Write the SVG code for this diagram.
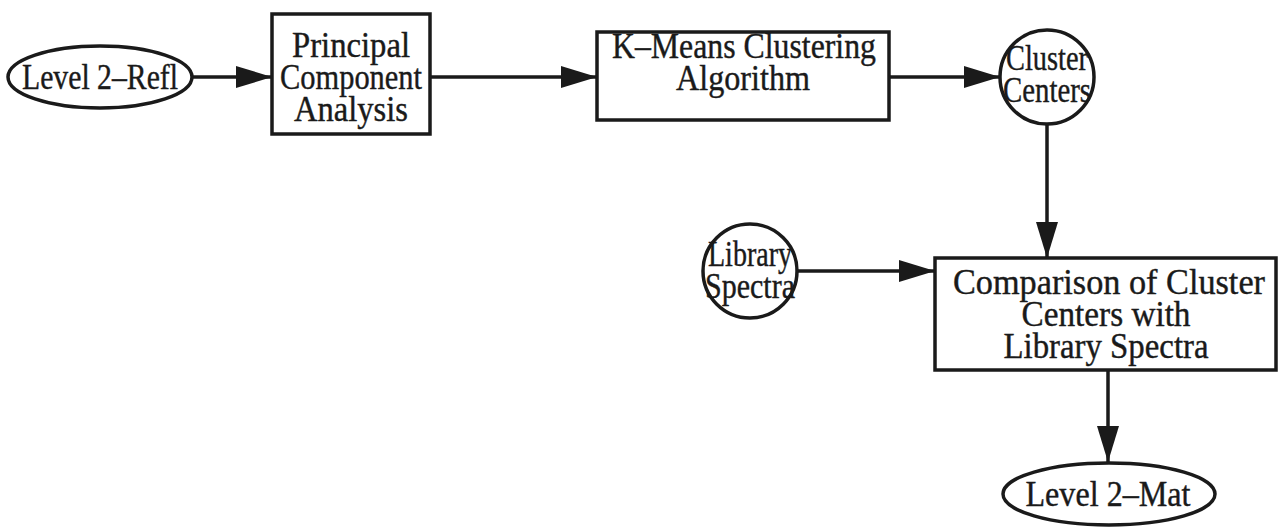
<svg xmlns="http://www.w3.org/2000/svg" width="1279" height="531" viewBox="0 0 1279 531">
<style>
.s{fill:#fff;stroke:#1a1a1a;stroke-width:3.5}
.t{font-family:"Liberation Serif","Times New Roman",serif;font-size:35px;fill:#1a1a1a;stroke:#1a1a1a;stroke-width:0.4;text-anchor:middle}
.c{stroke:#1a1a1a;stroke-width:3.5;fill:none}
</style>
<defs>
<marker id="ah" markerUnits="userSpaceOnUse" markerWidth="38" markerHeight="24" refX="36" refY="11" orient="auto">
<path d="M0,0 L36,11 L0,22 Z" fill="#1a1a1a"/>
</marker>
</defs>
<rect width="1279" height="531" fill="#fff"/>
<g id="connectors">
<line class="c" x1="192" y1="77" x2="272" y2="77" marker-end="url(#ah)"/>
<line class="c" x1="430" y1="77" x2="597" y2="77" marker-end="url(#ah)"/>
<line class="c" x1="889" y1="77" x2="1000" y2="77" marker-end="url(#ah)"/>
<line class="c" x1="1047" y1="124" x2="1047" y2="258" marker-end="url(#ah)"/>
<line class="c" x1="797" y1="271" x2="935" y2="271" marker-end="url(#ah)"/>
<line class="c" x1="1108" y1="370" x2="1108" y2="462" marker-end="url(#ah)"/>
</g>
<g id="level2refl">
<ellipse class="s" cx="100" cy="77" rx="92" ry="31"/>
<text class="t" x="100" y="89" textLength="156" lengthAdjust="spacingAndGlyphs">Level 2–Refl</text>
</g>
<g id="pca">
<rect class="s" x="272" y="14" width="158" height="120"/>
<text class="t" x="351" y="57" textLength="118" lengthAdjust="spacingAndGlyphs">Principal</text>
<text class="t" x="351" y="89" textLength="142" lengthAdjust="spacingAndGlyphs">Component</text>
<text class="t" x="351" y="121" textLength="114" lengthAdjust="spacingAndGlyphs">Analysis</text>
</g>
<g id="kmeans">
<rect class="s" x="597" y="32" width="292" height="88"/>
<text class="t" x="744" y="58" textLength="264" lengthAdjust="spacingAndGlyphs">K–Means Clustering</text>
<text class="t" x="743" y="90" textLength="134" lengthAdjust="spacingAndGlyphs">Algorithm</text>
</g>
<g id="clustercenters">
<circle class="s" cx="1047" cy="77" r="47"/>
<text class="t" x="1047" y="70" textLength="82" lengthAdjust="spacingAndGlyphs">Cluster</text>
<text class="t" x="1047" y="102" textLength="88" lengthAdjust="spacingAndGlyphs">Centers</text>
</g>
<g id="library">
<circle class="s" cx="750" cy="271" r="47"/>
<text class="t" x="750" y="266" textLength="84" lengthAdjust="spacingAndGlyphs">Library</text>
<text class="t" x="750" y="298" textLength="90" lengthAdjust="spacingAndGlyphs">Spectra</text>
</g>
<g id="comparison">
<rect class="s" x="935" y="258" width="341" height="112"/>
<text class="t" x="1109" y="294" textLength="312" lengthAdjust="spacingAndGlyphs">Comparison of Cluster</text>
<text class="t" x="1106" y="326" textLength="169" lengthAdjust="spacingAndGlyphs">Centers with</text>
<text class="t" x="1106" y="358" textLength="205" lengthAdjust="spacingAndGlyphs">Library Spectra</text>
</g>
<g id="level2mat">
<ellipse class="s" cx="1109" cy="494" rx="106" ry="31"/>
<text class="t" x="1108" y="506" textLength="165" lengthAdjust="spacingAndGlyphs">Level 2–Mat</text>
</g>
</svg>
